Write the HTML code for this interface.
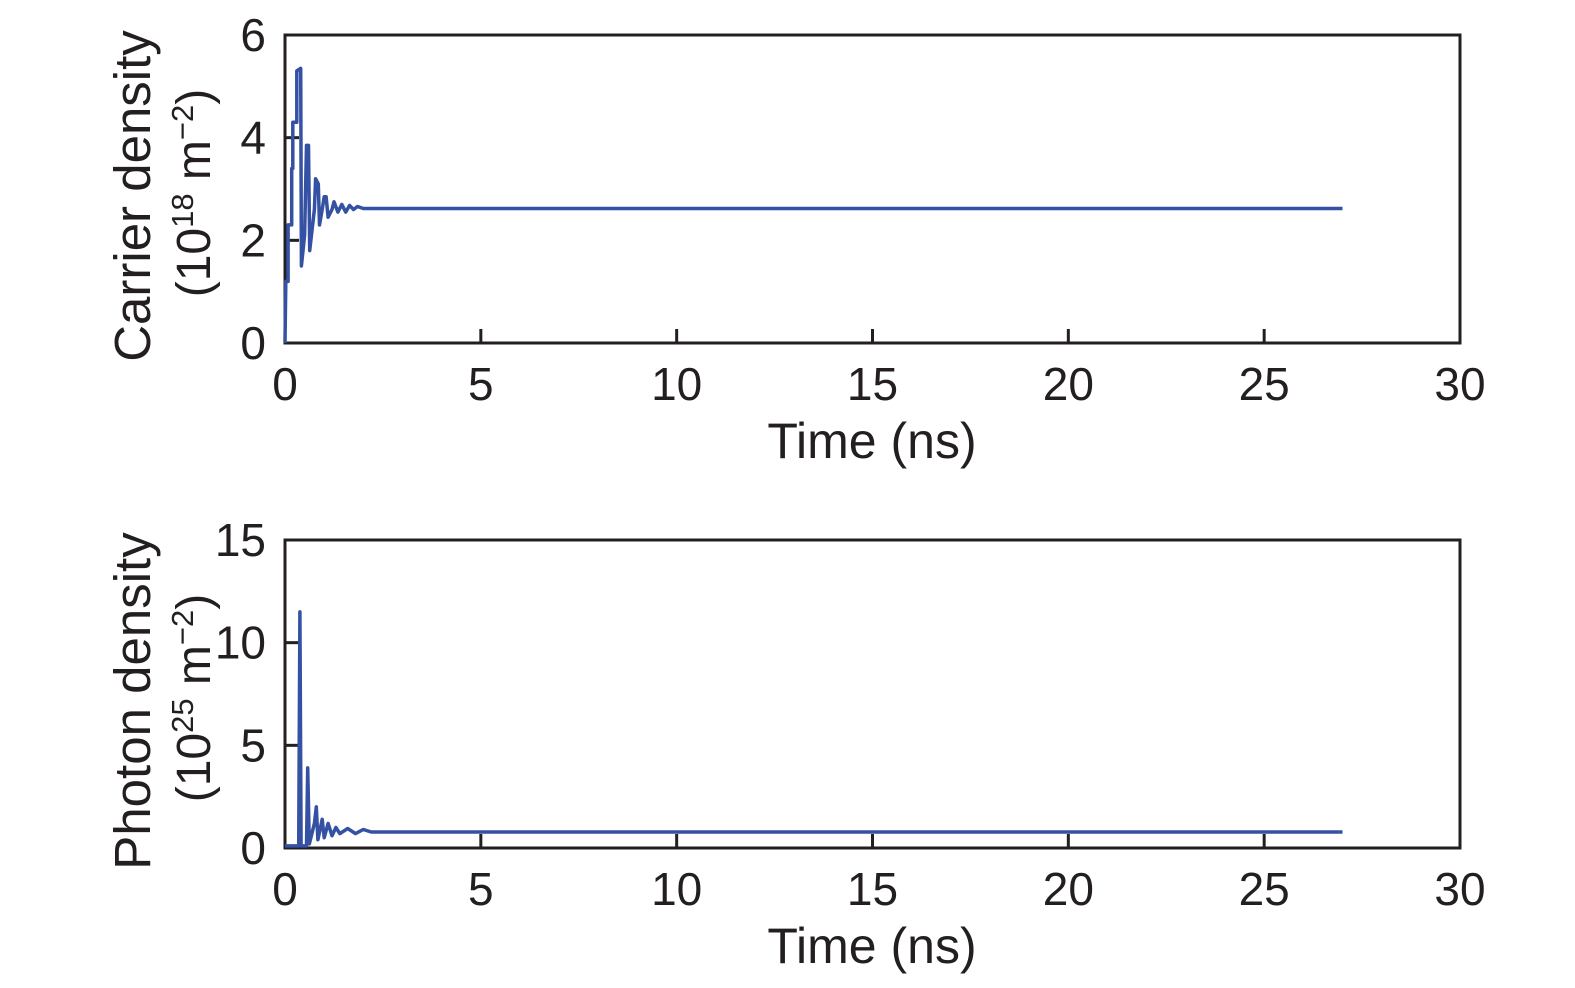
<!DOCTYPE html>
<html><head><meta charset="utf-8"><style>
html,body{margin:0;padding:0;background:#fff;}
svg{display:block;font-family:"Liberation Sans","DejaVu Sans",sans-serif;}
</style></head><body>
<svg id="c" width="1575" height="988" xmlns="http://www.w3.org/2000/svg"></svg>
<script>
const xTicks=[0,5,10,15,20,25,30];
const carrierTicks=[0,2,4,6];
const photonTicks=[0,5,10,15];
const carrierT=[0,0.02,0.08,0.08,0.17,0.17,0.2,0.2,0.3,0.3,0.4,0.42,0.5,0.55,0.6,0.63,0.75,0.78,0.85,0.88,0.95,1.0,1.05,1.1,1.2,1.25,1.35,1.45,1.55,1.65,1.75,1.85,2,27];
const carrierN=[0,1.2,1.2,2.3,2.3,3.4,3.4,4.3,4.3,5.3,5.35,1.5,2.1,3.85,3.85,1.8,2.6,3.2,3.1,2.3,2.6,2.85,2.85,2.45,2.6,2.75,2.55,2.7,2.55,2.68,2.6,2.66,2.62,2.62];
const photonT=[0,0.35,0.38,0.41,0.55,0.58,0.62,0.75,0.8,0.84,0.95,1.0,1.1,1.2,1.3,1.4,1.6,1.8,2.0,2.2,27];
const photonS=[0.1,0.1,11.5,0.1,0.1,3.9,0.2,1.2,2.0,0.4,1.4,0.5,1.2,0.6,1.0,0.7,0.95,0.7,0.9,0.78,0.78];
const NS="http://www.w3.org/2000/svg";
const svg=document.getElementById('c');
function mk(tag,attrs,parent){const e=document.createElementNS(NS,tag);for(const k in attrs)e.setAttribute(k,attrs[k]);(parent||svg).appendChild(e);return e;}
function panel(name,top,bottom,yMax,yTicks,T,V,l1,l2sup){
  const L=285,R=1460;
  const g=mk('g',{});
  
  
  const xs=t=>L+(t/30)*(R-L);
  const ys=v=>bottom-(v/yMax)*(bottom-top);
  const fr=mk('rect',{x:L,y:top,width:R-L,height:bottom-top,fill:'none',stroke:'#231f20','stroke-width':3},g);
  
  
  xTicks.forEach(t=>{
    const tk=mk('line',{x1:xs(t),x2:xs(t),y1:bottom,y2:bottom-14,stroke:'#231f20','stroke-width':3},g);
    
    
    const tx=mk('text',{x:xs(t),y:bottom+57,'font-size':46,'text-anchor':'middle',fill:'#231f20'},g);
    tx.textContent=t;
    
    
  });
  yTicks.forEach(v=>{
    const tk=mk('line',{x1:L,x2:L+14,y1:ys(v),y2:ys(v),stroke:'#231f20','stroke-width':3},g);
    
    
    const tx=mk('text',{x:266,y:ys(v)+16,'font-size':46,'text-anchor':'end',fill:'#231f20'},g);
    tx.textContent=v;
    
    
  });
  const xt=mk('text',{x:872,y:bottom+115,'font-size':50,'text-anchor':'middle',fill:'#231f20'},g);
  xt.textContent='Time (ns)';
  
  
  const cy=(top+bottom)/2+7;
  const y1=mk('text',{x:0,y:0,'font-size':51,'text-anchor':'middle',fill:'#231f20',transform:`translate(150,${cy}) rotate(-90)`},g);
  y1.textContent=l1;
  
  
  const y2=mk('text',{x:0,y:0,'font-size':48,'text-anchor':'middle',fill:'#231f20',transform:`translate(210,${cy-3}) rotate(-90)`},g);
  y2.innerHTML='(10<tspan dy="-17" font-size="31">'+l2sup+'</tspan><tspan dy="17"> m</tspan><tspan dy="-17" font-size="31">−2</tspan><tspan dy="17">)</tspan>';
  
  
  const pts=T.map((t,i)=>xs(t).toFixed(1)+','+ys(V[i]).toFixed(1)).join(' ');
  const pl=mk('polyline',{points:pts,fill:'none',stroke:'#3451a3','stroke-width':3.5,'stroke-linejoin':'round'},g);
  
  
}
panel('carrier-density',35,343,6,carrierTicks,carrierT,carrierN,'Carrier density','18');
panel('photon-density',540,848,15,photonTicks,photonT,photonS,'Photon density','25');
</script>
</body></html>
